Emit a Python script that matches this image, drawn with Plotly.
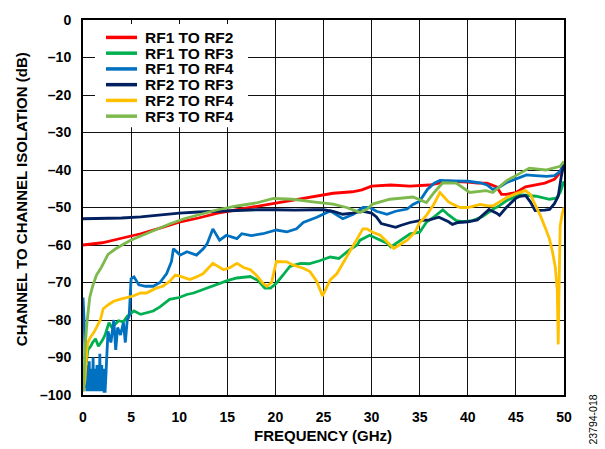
import plotly.graph_objects as go

# ---------------- data ----------------
names = ["RF1 TO RF2", "RF1 TO RF3", "RF1 TO RF4", "RF2 TO RF3", "RF2 TO RF4", "RF3 TO RF4"]
colors = ["#FF0000", "#00B050", "#0070C0", "#002060", "#FFC000", "#7DB94D"]

f_rf1_rf2 = [0, 2, 4, 6, 8, 10, 12, 14, 16, 18, 20, 22, 24, 26, 28, 29, 30, 31, 32, 34, 36, 38, 40, 41, 42, 43,
             43.5, 44, 45, 46, 47, 48, 49, 49.5, 50]
v_rf1_rf2 = [-60, -59.4, -58.2, -57, -55.5, -53.9, -52.8, -51.5, -50.6, -49.7, -48.8, -47.9, -46.9, -46.2, -45.8,
             -45.3, -44.3, -44.2, -44, -44.3, -44, -43, -43.2, -43.5, -43.5, -44.5, -46.5, -46.5, -46, -44.5, -44,
             -43.5, -42.5, -41, -38]

f_rf1_rf3 = [0, 0.3, 0.5, 0.8, 1.0, 1.3, 1.6, 2.0, 2.3, 2.7, 3.0, 3.7, 4.2, 4.6, 5.3, 6, 6.7, 7.3, 8, 9, 10, 10.8,
             11.5, 12.5, 13.3, 14.2, 15, 16, 17.4, 18.2, 18.9, 19.5, 20.1, 20.8, 21.5, 22.6, 23.5, 24.6, 25.7, 26.6,
             27.7, 28.5, 28.8, 29.8, 30.5, 31.6, 32, 33, 34, 35, 35.7, 36.5, 37.4, 38, 38.8, 39.5, 40.5, 41.5, 42.6,
             43.3, 44, 45.4, 46.2, 47.1, 48.5, 49.2, 49.6, 50]
v_rf1_rf3 = [-99, -93, -88, -87, -86, -85, -87, -85.5, -84, -80.7, -82, -80.2, -80.5, -79, -77.6, -78.5, -78, -77.6,
             -76.5, -74.5, -74, -73.2, -72.8, -71.8, -71, -70.2, -69.5, -68.8, -68.4, -69.5, -71.5, -71.5, -70.2,
             -68, -65.7, -64.9, -65, -64.2, -63.2, -63.6, -61.3, -60, -58.7, -57.4, -58.2, -59.5, -60.5, -58.7, -57,
             -56.6, -53.9, -52.5, -50.6, -52, -53.5, -53.8, -53.5, -52.5, -50.5, -49.5, -48.2, -46.6, -46.8, -47,
             -47.8, -47.5, -46, -43]

f_rf1_rf4 = [0, 0.15, 0.3, 0.35, 0.4, 0.45, 0.5, 0.55, 0.6, 0.65, 0.7, 0.75, 0.8, 0.85, 0.9, 0.95, 1.0, 1.05, 1.1,
             1.15, 1.2, 1.25, 1.3, 1.35, 1.4, 1.45, 1.5, 1.55, 1.6, 1.65, 1.7, 1.75, 1.8, 1.85, 1.9, 1.95, 2.0, 2.05,
             2.1, 2.15, 2.2, 2.3, 2.6, 2.9, 3.2, 3.4, 3.6, 3.9, 4.2, 4.4, 4.6, 4.8, 5.0, 5.3, 5.8, 6.5, 7.3, 8, 8.7,
             9.2, 9.4, 10.1, 10.8, 11.8, 12.5, 12.9, 13.5, 14.2, 14.9, 16, 16.5, 17.5, 18.7, 20.1, 21.2, 22.2, 22.9,
             24.3, 25.7, 27, 28.1, 29.1, 29.8, 30.5, 31.6, 32.5, 33.7, 34.3, 35, 35.8, 36.5, 37.1, 38.5, 40, 41.3,
             42, 42.6, 43.3, 44, 45, 46.1, 47, 48.2, 49, 49.4, 49.7, 50]
v_rf1_rf4 = [-74, -82, -98, -94, -99, -92, -99, -95, -99, -91, -99, -96, -99, -93, -99, -97, -99, -90, -99, -95,
             -99, -93, -99, -96, -99, -92, -99, -97, -99, -94, -99, -89, -99, -95, -99, -92, -99, -96, -99, -93, -99,
             -99, -83, -86, -80, -88, -82, -84, -80.7, -86, -80, -79, -69, -68.5, -70.6, -71, -71, -70,
             -67.6, -64.4, -61, -62.7, -61.8, -62.7, -61, -59.7, -55.7, -58.7, -57.4, -58.3, -57, -57.5, -57, -56,
             -56.5, -55.7, -54, -52.6, -50.9, -53, -51.8, -50, -50, -51, -51.8, -51, -50.4, -49.2, -48.3, -45.2,
             -43.5, -42.8, -42.9, -43, -43.4, -44, -45.2, -44.5, -43.4, -42.5, -41.3, -41.5, -41.7, -41.5, -40.8,
             -40, -38]

f_rf2_rf3 = [0, 2, 4, 6, 8, 10, 12, 14, 16, 18, 20, 22, 24, 25, 26, 27, 28, 29, 30, 30.5, 31, 32, 32.5, 33, 34, 35,
             36, 37, 38, 38.4, 39, 40, 41, 42, 42.2, 43, 43.3, 44, 45, 45.4, 46, 46.5, 47, 48, 48.5, 49, 49.4, 49.7,
             50]
v_rf2_rf3 = [-53, -53, -52.8, -52.5, -52, -51.5, -51.2, -51, -50.7, -50.6, -50.6, -50.7, -50.6, -50.6, -51, -51.8,
             -51.5, -51, -51.5, -52.5, -54.3, -55, -55.3, -54.8, -54, -53.5, -53.3, -52.6, -53.8, -54.5, -54, -53.8,
             -53.3, -51, -50.5, -51.5, -52.1, -50, -47.5, -47, -46.8, -48.5, -50.8, -50.7, -50.5, -49, -47, -42,
             -38]

f_rf2_rf4 = [0, 0.2, 0.4, 0.5, 0.8, 1.2, 1.8, 2.1, 2.7, 3.2, 3.8, 4.6, 5.2, 6, 6.6, 7.6, 8.3, 9, 9.6, 10.3, 11.1,
             11.8, 12.5, 13.5, 14.6, 15.3, 16, 16.7, 17.4, 18, 18.7, 19.1, 19.6, 20.1, 20.5, 21.2, 21.8, 22.9, 23.6,
             24.3, 24.9, 25.7, 26.4, 27.2, 28.1, 28.5, 29.1, 29.5, 30.1, 30.9, 31.6, 32.3, 33, 33.7, 34.5, 35, 35.7,
             36.5, 37.1, 38, 38.5, 39.2, 40, 41.3, 42, 42.6, 43.3, 44, 45, 45.5, 46, 46.5, 47.1, 47.6, 48.1, 48.5,
             48.8, 49.1, 49.3, 49.4, 49.5, 49.6, 49.8, 50]
v_rf2_rf4 = [-99, -96, -88, -86, -84.5, -83, -80, -77, -75.8, -75, -74.5, -74, -73.6, -72.8, -72.8, -71.5, -71,
             -69.7, -68, -68.5, -69.2, -68.5, -67.6, -64.9, -66.6, -66, -64.9, -66, -66.6, -68, -70.2, -71, -70,
             -64.4, -64.4, -64.5, -65.3, -66.2, -67.1, -69.7, -73.6, -69.3, -67.6, -64, -60, -58.3, -55.7, -55.7,
             -56.6, -57.4, -59.2, -60.9, -59.8, -58.7, -56.6, -54, -52.1, -49, -46, -48.5, -49.2, -50, -50, -49.2,
             -49.5, -49.6, -48.5, -47.4, -46.3, -45.9, -45.5, -46.5, -49.6, -52.5, -55.7, -58.5, -61.8, -66, -72,
             -86.5, -70, -55, -51.8, -50]

f_rf3_rf4 = [0, 0.1, 0.2, 0.4, 0.7, 1.0, 1.4, 1.9, 2.6, 3.4, 4.2, 4.9, 6, 7.3, 9, 10.5, 12.5, 14, 16, 18, 19.8, 21.8,
             23.9, 26, 27.4, 28.8, 29.5, 30.1, 31.9, 34.3, 35.7, 36.5, 37.4, 38.8, 40.2, 41.9, 42.6, 44, 45, 46.4,
             48.1, 49.6, 50]
v_rf3_rf4 = [-99, -96, -88, -81, -74, -71, -68, -66, -62.5, -61, -59.8, -58.8, -57.6, -56.2, -54.4, -53, -51.6,
             -50.6, -49.6, -48.8, -47.6, -47.8, -48.5, -49.1, -50, -51.3, -50.5, -49.1, -47.8, -47.2, -48.7, -46,
             -43.4, -43.5, -46, -45.5, -46, -42.9, -41.5, -39.5, -40, -39, -37.7]

freqs = [f_rf1_rf2, f_rf1_rf3, f_rf1_rf4, f_rf2_rf3, f_rf2_rf4, f_rf3_rf4]
values = [v_rf1_rf2, v_rf1_rf3, v_rf1_rf4, v_rf2_rf3, v_rf2_rf4, v_rf3_rf4]

x_ticks = [0, 5, 10, 15, 20, 25, 30, 35, 40, 45, 50]
y_ticks = [0, -10, -20, -30, -40, -50, -60, -70, -80, -90, -100]
y_tick_text = ["0", "–10", "–20", "–30", "–40", "–50", "–60", "–70", "–80", "–90", "–100"]

# ---------------- figure ----------------
FONT = "Arial, Liberation Sans, sans-serif"
fig = go.Figure()
for f, v, n, c in zip(freqs, values, names, colors):
    fig.add_trace(go.Scatter(x=f, y=v, name=n, mode="lines",
                             line=dict(color=c, width=2.8), showlegend=False))

W, H = 605, 449
ml, mr, mt, mb = 83, 41, 14, 54
pw, ph = W - ml - mr, H - mt - mb


def px2paper(px, py):
    return (px - ml) / pw, 1 - (py - mt) / ph


shapes = []
annotations = []
# legend box (white) covering gridlines
x0, y1 = px2paper(95, 18)
x1, y0 = px2paper(248, 123)
shapes.append(dict(type="rect", xref="paper", yref="paper", x0=x0, x1=x1, y0=y0, y1=y1,
                   fillcolor="white", line=dict(width=0), layer="above"))
for i, (n, c) in enumerate(zip(names, colors)):
    py = 31.7 + i * 16.0
    sx0, sy = px2paper(106, py)
    sx1, _ = px2paper(137, py)
    shapes.append(dict(type="line", xref="paper", yref="paper", x0=sx0, x1=sx1, y0=sy, y1=sy,
                       line=dict(color=c, width=3.5), layer="above"))
    tx, _ = px2paper(144, py)
    annotations.append(dict(text=n, xref="paper", yref="paper", x=tx, y=sy, xanchor="left",
                            yanchor="middle", showarrow=False, borderpad=0,
                            font=dict(family=FONT, size=15.5, color="black", weight="bold")))

# axis titles
ax, ay = px2paper(323, 436)
annotations.append(dict(text="FREQUENCY (GHz)", xref="paper", yref="paper", x=ax, y=ay,
                        xanchor="center", yanchor="middle", showarrow=False,
                        font=dict(family=FONT, size=15, color="black", weight="bold")))
ax, ay = px2paper(21, 196)
annotations.append(dict(text="CHANNEL TO CHANNEL ISOLATION (dB)", xref="paper", yref="paper", x=ax, y=ay,
                        xanchor="center", yanchor="middle", showarrow=False, textangle=-90,
                        font=dict(family=FONT, size=15, color="black", weight="bold")))
ax, ay = px2paper(593, 420)
annotations.append(dict(text="23794-018", xref="paper", yref="paper", x=ax, y=ay,
                        xanchor="center", yanchor="middle", showarrow=False, textangle=-90,
                        font=dict(family=FONT, size=10.5, color="black")))

fig.update_layout(
    width=W, height=H,
    margin=dict(l=ml, r=mr, t=mt, b=mb),
    paper_bgcolor="white", plot_bgcolor="white",
    shapes=shapes, annotations=annotations,
    font=dict(family=FONT, color="black"),
)
fig.update_xaxes(range=[0, 50], tickvals=x_ticks, showgrid=True, gridcolor="#111", gridwidth=1,
                 showline=True, linecolor="black", linewidth=2, mirror=True, zeroline=False,
                 ticks="", ticklabelstandoff=8,
                 tickfont=dict(family=FONT, size=14, color="black", weight="bold"))
fig.update_yaxes(range=[-100, 0], tickvals=y_ticks, ticktext=y_tick_text, showgrid=True, gridcolor="#111",
                 gridwidth=1, showline=True, linecolor="black", linewidth=2, mirror=True, zeroline=False,
                 ticks="", ticklabelstandoff=7,
                 tickfont=dict(family=FONT, size=14, color="black", weight="bold"))

fig.write_html("out.html", config={"displayModeBar": False},
               post_script="document.body.style.margin='0';document.body.style.overflow='hidden';")
